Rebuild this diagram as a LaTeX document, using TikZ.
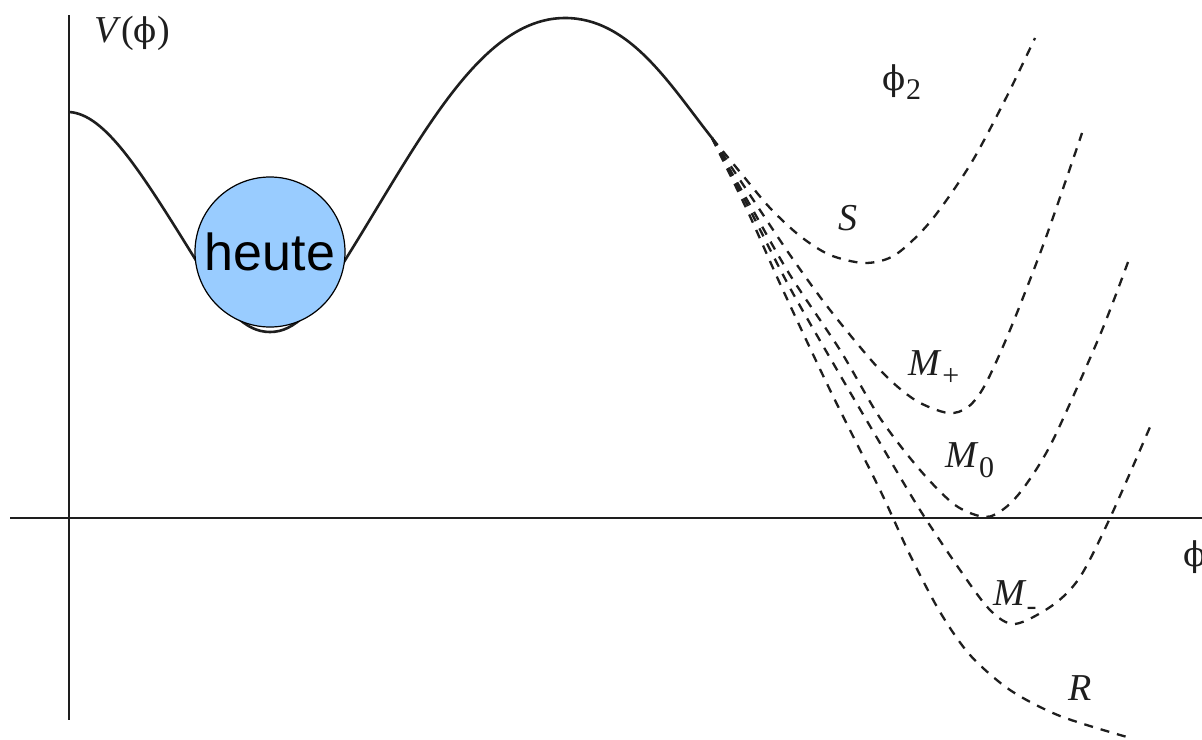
\documentclass[tikz,border=0pt]{standalone}
\usepackage{fontspec}
\setmainfont{Liberation Serif}
\newfontfamily\arialfont{Liberation Sans}
\newfontfamily\phifont{DejaVu Serif}
\newcommand\phisym{{\phifont\fontsize{17}{20}\selectfont ϕ}}
\newcommand\lowsub[1]{\raisebox{-0.55ex}{\fontsize{15}{15}\selectfont #1}}
\definecolor{ballblue}{RGB}{153,204,255}
\definecolor{ink}{RGB}{30,30,30}
\begin{document}
\begin{tikzpicture}[x=0.5pt,y=-0.5pt,
  pot/.style={line width=1.3pt, ink, line join=round},
  branch/.style={line width=1.15pt, ink, dash pattern=on 4.5pt off 4pt},
  axisline/.style={line width=1pt, ink},
  lbl/.style={font=\fontsize{19}{22}\selectfont, inner sep=0pt, text=ink},
  ballstyle/.style={circle, draw=black, line width=0.6pt, fill=ballblue,
     minimum size=75pt, inner sep=0pt, font=\arialfont\fontsize{26}{30}\selectfont}]
\useasboundingbox (0,0) rectangle (1202,739);
\clip (0,0) rectangle (1202,739);
\fill[white] (0,0) rectangle (1202,739);

% axes
\coordinate (ytop) at (69,15);
\coordinate (ybot) at (69,720);
\coordinate (xleft) at (10,518);
\coordinate (xright) at (1202,518);
\draw[axisline] (ytop) -- (ybot);
\draw[axisline] (xleft) -- (xright);

% potential (solid)
\coordinate (start) at (69,112);
\coordinate (split) at (712,138);
\draw[pot] (start) .. controls (105,114) and (140,170) .. (197,262)
  .. controls (225,310) and (245,332) .. (270,332)
  .. controls (295,332) and (315,310) .. (347,257)
  .. controls (420,140) and (480,18) .. (565,18)
  .. controls (630,18) and (670,85) .. (split);

% branches (dashed)
\draw[branch] plot[smooth] coordinates {(split) (740,172) (770,208) (800,236) (830,255) (865,263) (895,255) (930,222) (970,165) (1005,100) (1035,38)};
\draw[branch] plot[smooth] coordinates {(split) (750,195) (790,255) (830,310) (880,370) (915,400) (948,413) (968,407) (985,385) (1010,330) (1045,240) (1082,133)};
\draw[branch] plot[smooth] coordinates {(split) (750,205) (790,275) (840,350) (880,418) (920,470) (955,505) (985,517) (1005,508) (1025,486) (1053,440) (1100,335) (1128,262)};
\draw[branch] plot[smooth] coordinates {(split) (750,210) (790,288) (840,375) (880,443) (920,510) (960,570) (990,610) (1015,624) (1053,605) (1080,577) (1110,518) (1150,427)};
\draw[branch] plot[smooth] coordinates {(split) (748,212) (782,288) (830,390) (880,490) (910,555) (940,612) (970,655) (1010,690) (1060,716) (1127,737)};

% ball
\node[ballstyle] (ball) at (270,252) {heute};

% labels
\node[lbl] (vlab) at (132,33) {\textit{V}(\phisym)};
\node[lbl] (phi2) at (902,82) {\phisym\lowsub{2}};
\node[lbl, anchor=west] (phix) at (1183,557) {\phisym};
\node[lbl] (slab) at (848,218) {\textit{S}};
\node[lbl] (mplus) at (934,368) {\textit{M}\lowsub{+}};
\node[lbl] (mzero) at (970,460) {\textit{M}\lowsub{0}};
\node[lbl] (mminus) at (1015,598) {\textit{M}\lowsub{-}};
\node[lbl] (rlab) at (1080,688) {\textit{R}};
\end{tikzpicture}
\end{document}
